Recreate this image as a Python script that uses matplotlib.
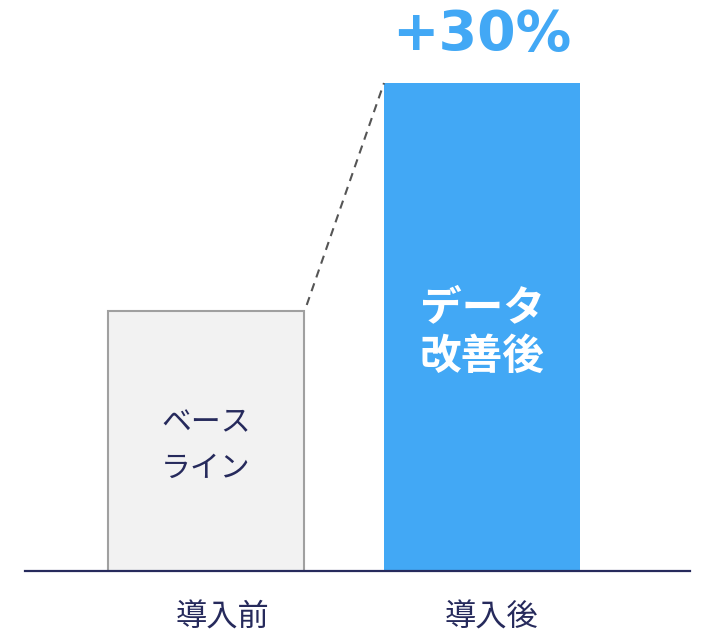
import matplotlib
matplotlib.use("Agg")
import matplotlib.pyplot as plt

plt.rcParams['font.family'] = ['Noto Sans CJK JP', 'DejaVu Sans']

# Data
categories = ["導入前", "導入後"]
values = [100, 130]
bar_labels = ["ベース\nライン", "データ\n改善後"]

NAVY = "#262a5c"
BLUE = "#42a8f5"

fig = plt.figure(figsize=(7.06, 6.34), dpi=100)
ax = fig.add_axes([25 / 706, 63 / 634, 665 / 706, 488 / 634])

width = 0.71
x = [0, 1]
ymin = 65.8

ax.bar(x[0], values[0], width=width, color="#f2f2f2", edgecolor="#a0a0a0",
       linewidth=1.5, zorder=2)
ax.bar(x[1], values[1], width=width, color=BLUE, edgecolor="none", zorder=2)

ax.set_xlim(-0.656, 1.754)
ax.set_ylim(ymin, values[1])

# Dashed connector from the baseline bar top to the improved bar top
ax.plot([x[0] + width / 2 + 0.01, x[1] - width / 2],
        [values[0] + 0.8, values[1]],
        linestyle=(0, (4, 3)), color="#555555", linewidth=1.5, zorder=3,
        clip_on=False)

# Labels inside bars
ax.annotate(bar_labels[0], xy=(x[0], (values[0] + ymin) / 2), xytext=(0, -3),
            textcoords="offset points", ha="center", va="center",
            fontsize=21.5, color=NAVY, linespacing=1.6, zorder=4)
ax.annotate(bar_labels[1], xy=(x[1], (values[1] + ymin) / 2), xytext=(0, -4),
            textcoords="offset points", ha="center", va="center",
            fontsize=30, color="white", fontweight="bold", linespacing=1.2,
            zorder=4)

# Change annotation
pct = (values[1] - values[0]) / values[0] * 100
ax.annotate(f"+{pct:.0f}%", xy=(x[1], values[1]), xytext=(0, 15),
            textcoords="offset points", ha="center", va="bottom",
            fontsize=40, fontweight="bold", color=BLUE,
            family="DejaVu Sans", annotation_clip=False)

# Category labels below axis
label_shift = [12, 7]
for xi, cat, dx in zip(x, categories, label_shift):
    ax.annotate(cat, xy=(xi, ymin), xytext=(dx, -22), textcoords="offset points",
                ha="center", va="top", fontsize=22.5, color=NAVY,
                annotation_clip=False)

for s in ["top", "right", "left"]:
    ax.spines[s].set_visible(False)
ax.spines["bottom"].set_color(NAVY)
ax.spines["bottom"].set_linewidth(1.6)
ax.spines["bottom"].set_zorder(5)
ax.set_xticks([])
ax.set_yticks([])

fig.savefig("out.png", dpi=100)
